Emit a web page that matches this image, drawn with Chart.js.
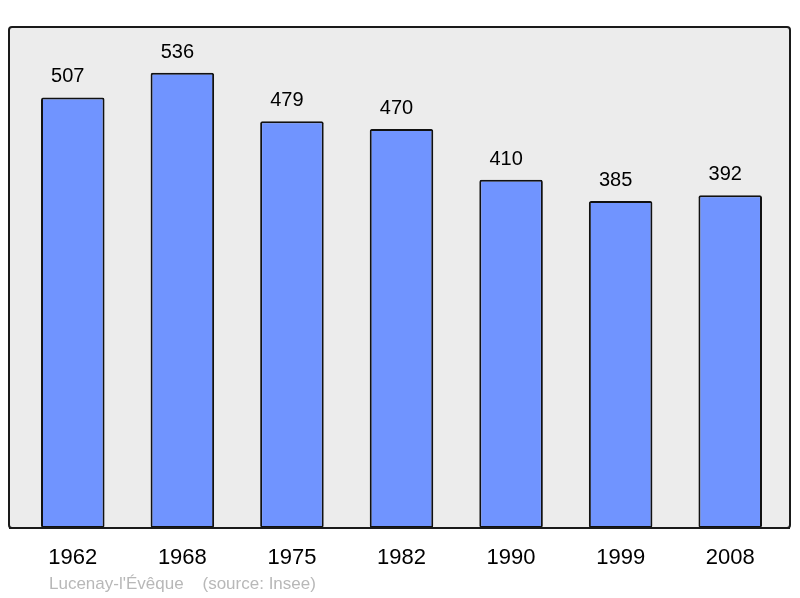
<!DOCTYPE html>
<html>
<head>
<meta charset="utf-8">
<script src="https://cdn.jsdelivr.net/npm/chart.js@4"></script>
<style>
  html, body { margin: 0; padding: 0; background: #fff; }
  #wrap { width: 800px; height: 598px; }
</style>
</head>
<body>
<div id="wrap"><canvas id="popChart" width="800" height="598"></canvas></div>
<script>
// data
const years = ['1962', '1968', '1975', '1982', '1990', '1999', '2008'];
const population = [507, 536, 479, 470, 410, 385, 392];
const placeName = "Lucenay-l'Évêque";
const sourceText = '(source: Insee)';

const FONT = '"Liberation Sans", Arial, sans-serif';

// grey framed panel behind the bars
const panelPlugin = {
    id: 'panel',
    beforeDraw(chart) {
        const c = chart.ctx;
        c.save();
        c.fillStyle = '#ececec';
        c.strokeStyle = '#1a1a1a';
        c.lineWidth = 2;
        c.beginPath();
        c.roundRect(9, 27, 781, 501, 3);
        c.fill();
        c.stroke();
        c.restore();
    },
    afterDatasetsDraw(chart) {
        const c = chart.ctx;
        const meta = chart.getDatasetMeta(0);
        c.save();
        // redraw bottom edge of frame over the bars
        c.strokeStyle = '#1a1a1a';
        c.lineWidth = 2;
        c.beginPath();
        c.moveTo(9, 528);
        c.lineTo(790, 528);
        c.stroke();

        // value labels above bars (sit a little left of centre in the original)
        c.fillStyle = '#000';
        c.font = '20px ' + FONT;
        c.textAlign = 'center';
        c.textBaseline = 'alphabetic';
        meta.data.forEach((bar, i) => {
            c.fillText(population[i], bar.x - 5, bar.y - 15);
        });

        // place name and source
        c.fillStyle = '#b8b8b8';
        c.font = '17px ' + FONT;
        c.textAlign = 'left';
        c.fillText(placeName + '    ' + sourceText, 49, 589);
        c.restore();
    }
};

const ctx = document.getElementById('popChart').getContext('2d');
const popChart = new Chart(ctx, {
    type: 'bar',
    data: {
        labels: years,
        datasets: [{
            data: population,
            backgroundColor: '#7094ff',
            borderColor: '#111',
            borderWidth: 2,
            borderRadius: 2,
            borderSkipped: false,
            barPercentage: 0.58,
            categoryPercentage: 1
        }]
    },
    options: {
        responsive: false,
        animation: false,
        devicePixelRatio: 1,
        layout: {
            padding: { left: 18, right: 15, top: 27, bottom: 0 }
        },
        plugins: {
            legend: { display: false },
            tooltip: { enabled: false }
        },
        scales: {
            x: {
                grid: { display: false },
                border: { display: false },
                ticks: {
                    color: '#000',
                    font: { family: FONT, size: 22 },
                    padding: 9
                },
                afterFit(scale) { scale.height = 70; }
            },
            y: {
                display: false,
                min: 0,
                max: 590
            }
        }
    },
    plugins: [panelPlugin]
});
</script>
</body>
</html>
